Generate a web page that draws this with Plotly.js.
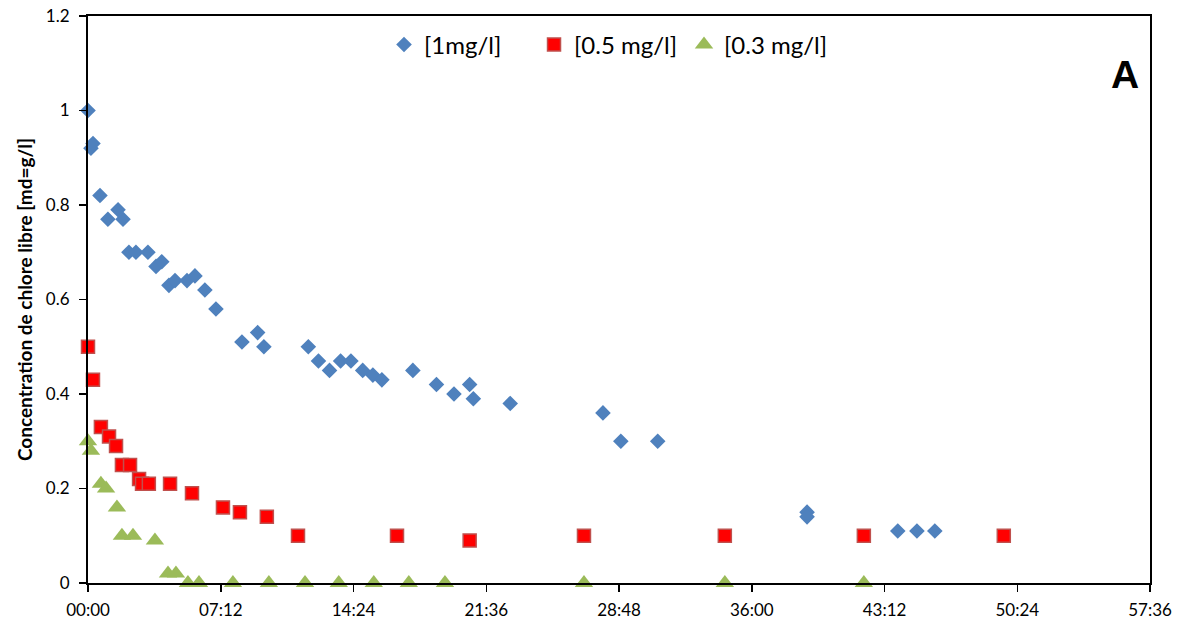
<!DOCTYPE html>
<html>
<head>
<meta charset="utf-8">
<script src="https://cdn.plot.ly/plotly-3.0.1.min.js"></script>
<style>
  html, body { margin: 0; padding: 0; background: #fff; }
  #chart { width: 1182px; height: 625px; }
</style>
</head>
<body>
<div id="chart"></div>
<script>
// Elapsed time in hours, free chlorine concentration in mg/l
const t1 = [0, 0.16, 0.27, 0.65, 1.08, 1.63, 1.9, 2.22, 2.6, 3.25, 3.69, 4.0, 4.39, 4.72, 5.37, 5.8, 6.34, 6.94,
            8.35, 9.2, 9.54, 11.95, 12.5, 13.1, 13.7, 14.26, 14.9, 15.45, 15.94, 17.62, 18.9, 19.85, 20.7, 20.9,
            22.9, 27.93, 28.9, 30.9, 39.0, 39.0, 43.92, 44.96, 45.93];
const c1 = [1.0, 0.92, 0.93, 0.82, 0.77, 0.79, 0.77, 0.70, 0.70, 0.70, 0.67, 0.68, 0.63, 0.64, 0.64, 0.65, 0.62, 0.58,
            0.51, 0.53, 0.50, 0.50, 0.47, 0.45, 0.47, 0.47, 0.45, 0.44, 0.43, 0.45, 0.42, 0.40, 0.42, 0.39,
            0.38, 0.36, 0.30, 0.30, 0.15, 0.14, 0.11, 0.11, 0.11];

const t05 = [0, 0.27, 0.7, 1.14, 1.52, 1.84, 2.28, 2.77, 2.93, 3.3, 4.45, 5.64, 7.32, 8.24, 9.7, 11.39,
             16.76, 20.7, 26.9, 34.54, 42.08, 49.67];
const c05 = [0.50, 0.43, 0.33, 0.31, 0.29, 0.25, 0.25, 0.22, 0.21, 0.21, 0.21, 0.19, 0.16, 0.15, 0.14, 0.10,
             0.10, 0.09, 0.10, 0.10, 0.10, 0.10];

const t03 = [0, 0.16, 0.7, 0.98, 1.57, 1.84, 2.44, 3.63, 4.34, 4.77, 5.42, 6.02, 7.86, 9.81, 11.77, 13.6,
             15.5, 17.4, 19.36, 26.9, 34.54, 42.08];
const c03 = [0.30, 0.28, 0.21, 0.20, 0.16, 0.10, 0.10, 0.09, 0.02, 0.02, 0, 0, 0, 0, 0, 0,
             0, 0, 0, 0, 0, 0];

const seriesNames = ['[1mg/l]', '[0.5 mg/l]', '[0.3 mg/l]'];
const timeTickVals = [0, 7.2, 14.4, 21.6, 28.8, 36, 43.2, 50.4, 57.6];
const timeTickText = ['00:00', '07:12', '14:24', '21:36', '28:48', '36:00', '43:12', '50:24', '57:36'];
const concTickVals = [0, 0.2, 0.4, 0.6, 0.8, 1, 1.2];
const yTitle = 'Concentration de chlore libre [md=g/l]';
const panelLabel = 'A';

const font = 'Lato, "Open Sans", "Liberation Sans", sans-serif';

const traces = [
  {
    x: t1, y: c1, name: seriesNames[0], type: 'scatter', mode: 'markers', cliponaxis: false,
    marker: { symbol: 'diamond', size: 12, color: '#4F81BD', line: { width: 0 } }
  },
  {
    x: t05, y: c05, name: seriesNames[1], type: 'scatter', mode: 'markers', cliponaxis: false,
    marker: { symbol: 'square', size: 13, color: '#FF0000', line: { width: 1.5, color: '#C0504D' } }
  },
  {
    x: t03, y: c03, name: seriesNames[2], type: 'scatter', mode: 'markers', cliponaxis: false,
    marker: { symbol: 'triangle-up', size: 16, color: '#9BBB59', line: { width: 0 } }
  }
];

const axisCommon = {
  showgrid: false, zeroline: false, showline: true, linecolor: '#000', linewidth: 2, mirror: true,
  ticks: 'outside', ticklen: 7, tickwidth: 1.5, tickcolor: '#000',
  tickfont: { family: font, size: 17, color: '#000' }
};

const layout = {
  width: 1182, height: 625,
  margin: { l: 88, r: 32, t: 16, b: 42 },
  paper_bgcolor: '#fff', plot_bgcolor: '#fff',
  font: { family: font, size: 17, color: '#000' },
  showlegend: true,
  legend: {
    orientation: 'h', x: 0.4906, xanchor: 'center', y: 0.949, yanchor: 'middle',
    font: { family: font, size: 24, color: '#000' },
    itemwidth: 30, entrywidth: 105, entrywidthmode: 'pixels', bgcolor: 'rgba(0,0,0,0)'
  },
  xaxis: Object.assign({}, axisCommon, {
    range: [0, 57.6], tickmode: 'array', tickvals: timeTickVals, ticktext: timeTickText,
    ticklabelstandoff: 4
  }),
  yaxis: Object.assign({}, axisCommon, {
    range: [0, 1.2], tickmode: 'array', tickvals: concTickVals,
    ticklabelstandoff: 6,
    title: { text: '<b>' + yTitle + '</b>', font: { family: font, size: 19, color: '#000' }, standoff: 8 }
  }),
  annotations: [
    {
      text: '<b>' + panelLabel + '</b>', xref: 'paper', yref: 'paper', x: 0.9765, y: 0.896,
      xanchor: 'center', yanchor: 'middle', showarrow: false,
      font: { family: 'Liberation Sans, Arial, sans-serif', size: 39, color: '#000' }
    }
  ]
};

Plotly.newPlot('chart', traces, layout, { displayModeBar: false, staticPlot: true });
</script>
</body>
</html>
